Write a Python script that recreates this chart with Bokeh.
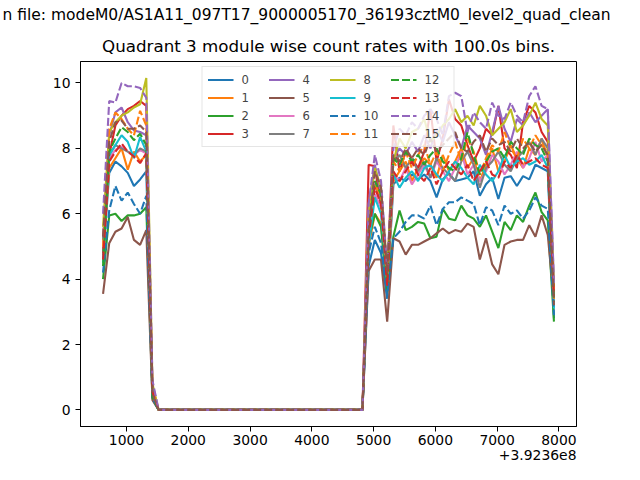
from bokeh.plotting import figure
from bokeh.models import Legend, LegendItem, Title, FixedTicker, Range1d
from bokeh.embed import file_html
from bokeh.resources import INLINE

# ---- data -------------------------------------------------------------
# time axis: seconds relative to the axis offset 3.9236e8 (100 s bins)
TIME_OFFSET_LABEL = "+3.9236e8"
time_rel = [
    620, 720, 820, 920, 1020, 1120, 1220, 1320, 1420, 1520,
    1620, 1720, 1820, 1920, 2020, 2120, 2220, 2320, 2420, 2520,
    2620, 2720, 2820, 2920, 3020, 3120, 3220, 3320, 3420, 3520,
    3620, 3720, 3820, 3920, 4020, 4120, 4220, 4320, 4420, 4520,
    4620, 4720, 4820, 4920, 5020, 5120, 5220, 5320, 5420, 5520,
    5620, 5720, 5820, 5920, 6020, 6120, 6220, 6320, 6420, 6520,
    6620, 6720, 6820, 6920, 7020, 7120, 7220, 7320, 7420, 7520,
    7620, 7720, 7820, 7920]

# count rates are zero between 1520 and 4820 (34 bins)
GAP = [0, 0, 0, 0, 0, 0, 0, 0, 0, 0, 0, 0, 0, 0, 0, 0, 0,
       0, 0, 0, 0, 0, 0, 0, 0, 0, 0, 0, 0, 0, 0, 0, 0, 0]

rate_00 = [4.6, 7.25, 7.6, 7.45, 7.25, 6.85, 7.05, 7.3, 0.4] + GAP + [
    4.4, 5.2, 4.8, 3.4, 6.9, 7.1, 7.0, 7.2, 7.05, 7.2, 7.0, 6.5, 7.05, 7.25, 7.0, 7.05,
    7.1, 7.3, 6.55, 6.9, 7.1, 6.45, 7.1, 7.15, 6.85, 7.15, 7.05, 7.5, 7.4, 7.3, 2.8]
rate_01 = [4.8, 7.4, 7.7, 8.0, 7.35, 7.9, 7.6, 7.8, 0.5] + GAP + [
    5.0, 6.0, 5.7, 3.7, 7.0, 7.3, 7.6, 7.0, 7.4, 7.7, 7.5, 7.1, 7.8, 7.3, 7.6, 8.0,
    7.4, 7.7, 7.0, 7.5, 8.0, 7.3, 7.6, 8.1, 7.7, 7.4, 8.0, 7.8, 8.3, 7.7, 3.5]
rate_02 = [4.0, 5.95, 6.0, 5.78, 5.95, 5.95, 6.0, 6.2, 0.35] + GAP + [
    5.2, 6.0, 5.6, 3.6, 5.3, 6.1, 5.5, 5.6, 5.75, 5.7, 5.25, 5.3, 6.15, 5.85, 5.8, 6.25,
    5.95, 5.85, 5.6, 5.95, 5.45, 4.95, 5.75, 5.5, 5.95, 5.75, 6.25, 6.65, 6.05, 5.8, 2.7]
rate_03 = [4.8, 7.8, 8.7, 9.0, 9.2, 9.3, 9.45, 9.3, 0.6] + GAP + [
    7.5, 7.45, 6.2, 3.9, 8.7, 7.3, 7.9, 7.7, 7.4, 7.9, 9.2, 7.6, 8.3, 9.5, 8.9, 8.7,
    8.1, 7.6, 8.0, 8.6, 8.4, 9.3, 8.0, 7.8, 7.4, 8.8, 9.3, 9.1, 8.5, 8.2, 3.6]
rate_04 = [5.2, 8.4, 9.1, 9.25, 8.8, 8.55, 8.5, 8.4, 0.7] + GAP + [
    6.3, 7.5, 6.6, 4.2, 7.7, 8.0, 7.8, 8.2, 7.9, 8.4, 8.0, 8.6, 8.2, 8.8, 8.4, 8.0,
    8.7, 8.5, 8.3, 7.8, 8.5, 9.3, 8.6, 8.2, 8.9, 8.7, 9.1, 8.8, 9.0, 9.2, 3.9]
rate_05 = [3.55, 5.1, 5.45, 5.55, 5.9, 5.2, 5.05, 5.5, 0.3] + GAP + [
    4.25, 4.6, 4.6, 2.7, 5.25, 5.15, 4.75, 5.05, 5.05, 5.15, 5.25, 5.4, 5.55, 5.4, 5.5, 5.45,
    5.7, 5.6, 4.6, 5.25, 4.45, 4.15, 5.05, 5.15, 5.2, 5.2, 5.65, 5.3, 5.95, 5.35, 3.3]
rate_06 = [5.0, 7.7, 7.95, 8.05, 7.9, 7.8, 7.95, 7.85, 0.5] + GAP + [
    5.6, 6.6, 6.2, 4.0, 7.2, 7.0, 7.4, 6.9, 7.2, 7.5, 7.1, 7.6, 7.3, 7.0, 7.4, 7.9,
    7.2, 7.5, 7.0, 7.3, 7.8, 7.6, 7.2, 7.5, 7.9, 7.4, 7.7, 8.2, 7.6, 7.8, 3.2]
rate_07 = [5.2, 7.8, 8.1, 8.0, 7.9, 7.8, 8.0, 7.9, 0.45] + GAP + [
    5.8, 6.9, 6.4, 4.1, 7.6, 7.8, 7.4, 7.7, 7.3, 7.6, 7.1, 7.7, 7.4, 7.2, 7.0, 7.6,
    7.9, 7.5, 6.8, 7.4, 7.6, 7.9, 7.5, 7.3, 7.7, 7.9, 8.2, 7.8, 8.3, 8.0, 3.4]
rate_08 = [5.6, 8.5, 8.8, 9.0, 9.1, 9.25, 9.35, 10.15, 0.8] + GAP + [
    6.0, 7.4, 6.8, 4.3, 7.6, 8.3, 8.0, 8.5, 8.6, 8.9, 8.2, 8.4, 8.7, 8.9, 9.2, 8.8,
    9.0, 8.7, 9.3, 9.0, 8.4, 8.6, 8.8, 9.2, 8.5, 8.7, 9.0, 9.4, 8.9, 8.7, 3.7]
rate_09 = [4.5, 7.8, 8.1, 8.4, 8.2, 7.7, 8.35, 7.9, 0.5] + GAP + [
    5.0, 6.5, 6.0, 3.9, 7.2, 6.8, 7.1, 7.3, 7.0, 7.4, 7.5, 7.2, 7.0, 7.3, 7.6, 7.4,
    7.1, 6.9, 7.5, 7.2, 7.0, 7.3, 7.8, 7.4, 7.6, 7.7, 7.5, 7.6, 7.8, 7.4, 3.1]
rate_10 = [4.2, 6.1, 6.85, 6.4, 6.65, 6.3, 6.0, 6.55, 0.35] + GAP + [
    4.8, 5.6, 5.1, 3.5, 5.25, 5.45, 5.75, 5.95, 5.95, 5.85, 6.25, 5.65, 6.15, 6.35, 6.35, 6.5,
    6.4, 6.3, 5.65, 6.2, 6.1, 5.65, 6.25, 6.0, 6.1, 5.85, 6.1, 6.5, 6.25, 6.15, 2.9]
rate_11 = [5.0, 8.6, 9.1, 8.9, 8.6, 8.4, 9.15, 8.7, 0.6] + GAP + [
    5.7, 6.9, 6.5, 4.0, 7.6, 7.3, 7.9, 7.4, 7.8, 8.1, 7.5, 7.9, 7.3, 7.8, 8.2, 7.6,
    8.3, 7.9, 7.2, 7.7, 8.1, 7.9, 8.5, 8.0, 7.7, 8.3, 8.0, 8.4, 8.1, 7.9, 3.4]
rate_12 = [4.4, 7.9, 8.3, 8.65, 8.5, 8.25, 8.45, 8.1, 0.4] + GAP + [
    5.5, 7.0, 6.6, 4.0, 7.7, 7.5, 7.9, 7.6, 7.8, 7.5, 7.8, 8.0, 7.6, 7.4, 7.3, 7.7,
    8.5, 7.8, 7.2, 7.6, 7.9, 8.0, 7.7, 8.2, 8.0, 7.8, 8.3, 8.1, 8.0, 7.6, 3.3]
rate_13 = [4.6, 7.6, 7.9, 8.15, 7.9, 7.75, 7.55, 7.85, 0.55] + GAP + [
    5.3, 6.8, 6.3, 3.8, 7.3, 7.0, 7.3, 7.6, 7.2, 7.0, 7.4, 6.9, 7.3, 7.6, 7.4, 7.2,
    7.5, 7.0, 7.3, 7.6, 7.2, 7.1, 7.6, 7.4, 7.8, 7.5, 7.6, 7.7, 7.5, 7.4, 3.5]
rate_14 = [6.0, 9.45, 9.4, 10.0, 9.9, 9.9, 9.85, 9.55, 0.9] + GAP + [
    6.3, 7.8, 7.0, 4.3, 8.0, 8.6, 8.4, 8.8, 8.6, 9.0, 9.2, 8.9, 8.4, 9.6, 9.7, 9.6,
    8.5, 9.1, 8.8, 8.6, 9.4, 9.0, 8.9, 9.4, 9.0, 8.8, 9.6, 9.9, 9.3, 9.2, 3.8]
rate_15 = [5.3, 8.2, 8.8, 8.85, 8.6, 8.6, 8.7, 8.5, 0.5] + GAP + [
    5.5, 7.3, 6.8, 4.2, 7.8, 7.6, 8.0, 7.7, 8.0, 7.8, 8.3, 7.9, 8.1, 8.3, 8.5, 8.0,
    7.9, 8.2, 8.4, 7.9, 8.3, 8.1, 8.2, 7.9, 8.3, 8.0, 8.2, 7.9, 8.1, 7.8, 3.2]

module_labels = ["0", "1", "2", "3", "4", "5", "6", "7",
                 "8", "9", "10", "11", "12", "13", "14", "15"]
x_ticks = [1000, 2000, 3000, 4000, 5000, 6000, 7000, 8000]
y_ticks = [0, 2, 4, 6, 8, 10]

title_line1 = "n file: modeM0/AS1A11_097T17_9000005170_36193cztM0_level2_quad_clean"
title_line2 = "Quadrant 3 module wise count rates with 100.0s bins."

# ---- styling ----------------------------------------------------------
tab10 = ["#1f77b4", "#ff7f0e", "#2ca02c", "#d62728", "#9467bd",
         "#8c564b", "#e377c2", "#7f7f7f", "#bcbd22", "#17becf"]
FONT = "DejaVu Sans"

rates = [rate_00, rate_01, rate_02, rate_03, rate_04, rate_05, rate_06, rate_07,
         rate_08, rate_09, rate_10, rate_11, rate_12, rate_13, rate_14, rate_15]

p = figure(width=624, height=464, output_backend="svg", toolbar_location=None,
           x_range=Range1d(255, 8285), y_range=Range1d(-0.5075, 10.6575),
           min_border_left=80, min_border_right=48, min_border_top=58,
           min_border_bottom=38)
p.background_fill_color = "white"
p.border_fill_color = "white"
p.outline_line_color = "black"
p.outline_line_width = 1
p.xgrid.visible = False
p.ygrid.visible = False

for ax in (p.xaxis[0], p.yaxis[0]):
    ax.axis_line_color = "black"
    ax.major_tick_line_color = "black"
    ax.major_tick_out = 5
    ax.major_tick_in = 0
    ax.minor_tick_line_color = None
    ax.major_label_text_font = FONT
    ax.major_label_text_font_size = "13.9px"
    ax.major_label_text_color = "black"
p.xaxis[0].major_label_standoff = 3
p.yaxis[0].major_label_standoff = 5
p.xaxis[0].ticker = FixedTicker(ticks=x_ticks)
p.yaxis[0].ticker = FixedTicker(ticks=y_ticks)

items = []
for i, (lab, ys) in enumerate(zip(module_labels, rates)):
    dash = "solid" if i < 10 else "8 3"
    r = p.line(time_rel, ys, line_color=tab10[i % 10], line_width=2.1,
               line_dash=dash)
    items.append(LegendItem(label=lab, renderers=[r]))

legend = Legend(items=items, location="top_center", orientation="vertical",
                nrows=4, margin=5, padding=5, spacing=3,
                glyph_width=26, glyph_height=15, label_height=15,
                label_width=24, label_standoff=8,
                label_text_font=FONT, label_text_font_size="11.6px",
                border_line_color="#cccccc", border_line_width=1,
                background_fill_alpha=0.8)
p.add_layout(legend, "center")

# titles: the second line sits next to the frame, the first line above it
p.add_layout(Title(text=title_line2, align="center", text_font=FONT,
                   text_font_size="16.7px", text_font_style="normal",
                   text_color="black", standoff=12), "above")
p.add_layout(Title(text=title_line1, align="left", offset=-78, text_font=FONT,
                   text_font_size="15.5px", text_font_style="normal",
                   text_color="black", standoff=7), "above")
# axis offset text, right-aligned under the x axis
p.add_layout(Title(text=TIME_OFFSET_LABEL, align="right", text_font=FONT,
                   text_font_size="13.9px", text_font_style="normal",
                   text_color="black", standoff=0), "below")

open("out.html", "w").write(file_html(p, INLINE))
